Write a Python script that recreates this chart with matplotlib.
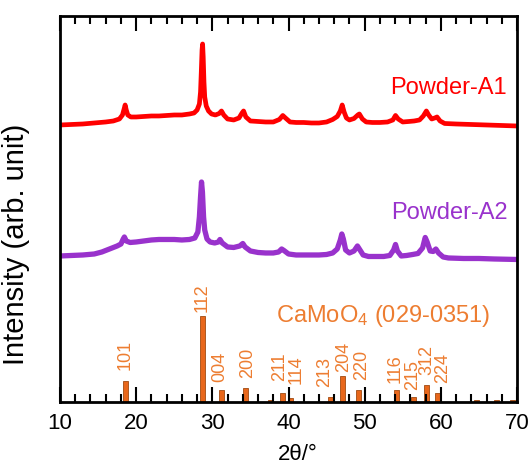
import matplotlib
matplotlib.use('Agg')
import matplotlib.pyplot as plt

plt.rcParams['font.family'] = ['Liberation Sans', 'DejaVu Sans']
plt.rcParams['mathtext.default'] = 'regular'

# Powder-A1 pattern (2theta, intensity in arb. units)
a1_tt = [10.0, 11.5, 13.0, 14.5, 16.0, 17.0, 17.8, 18.2, 18.45, 18.55, 18.7, 18.9, 19.3,
         20.0, 21.0, 22.0, 23.0, 24.0, 25.0, 26.0, 27.0, 27.6, 28.0, 28.3, 28.45, 28.55,
         28.65, 28.72, 28.8, 28.9, 29.0, 29.2, 29.5, 29.9, 30.4, 30.9, 31.2, 31.5, 32.0,
         32.8, 33.5, 33.9, 34.1, 34.4, 35.0, 36.0, 37.0, 38.0, 38.8, 39.25, 39.6, 40.2,
         41.0, 42.0, 43.0, 44.0, 45.0, 45.8, 46.4, 46.8, 47.05, 47.3, 47.6, 48.0, 48.6,
         49.1, 49.3, 49.7, 50.2, 51.0, 52.0, 53.0, 53.7, 54.05, 54.4, 55.0, 55.8, 56.5,
         57.2, 57.7, 58.1, 58.4, 58.8, 59.2, 59.5, 59.9, 60.5, 62.0, 64.0, 66.0, 68.0, 70.0]
a1_int = [277, 277.5, 278, 279, 280, 281, 283, 287, 294, 297, 292, 287, 285,
          285, 285.5, 286, 286, 286.5, 287, 287, 288, 289, 292, 298, 310, 330,
          352, 358, 345, 320, 305, 296, 291, 288, 287, 288.5, 291, 287, 283,
          282, 284, 289, 291, 285, 281, 280.5, 280, 280, 282.5, 286.5, 284, 280,
          279.5, 279.5, 279, 279, 280, 282.5, 285.5, 291, 297, 290, 284, 282, 283.5,
          287, 288, 283, 280, 279.5, 279.5, 280, 282, 286.5, 283, 280, 280.5, 281,
          282, 286, 291, 287, 283, 284, 285, 281, 278.5, 278, 277.5, 277, 276.5, 276]

# Powder-A2 pattern
a2_tt = [10.0, 11.5, 13.0, 14.5, 15.5, 16.5, 17.5, 18.0, 18.3, 18.45, 18.7, 19.2, 20.0,
         21.0, 22.0, 23.0, 24.0, 25.0, 26.0, 27.0, 27.7, 28.1, 28.3, 28.45, 28.58, 28.7,
         28.85, 29.0, 29.3, 29.7, 30.3, 30.8, 31.0, 31.3, 32.0, 32.8, 33.6, 34.0, 34.3,
         35.0, 36.0, 37.0, 38.0, 38.7, 39.1, 39.4, 40.0, 41.0, 42.0, 43.0, 44.0, 45.0,
         45.8, 46.4, 46.8, 47.0, 47.2, 47.5, 48.0, 48.6, 49.05, 49.3, 49.8, 50.5, 51.5,
         52.5, 53.3, 53.8, 54.05, 54.3, 54.8, 55.5, 56.3, 57.0, 57.6, 57.95, 58.2, 58.6,
         59.0, 59.35, 59.7, 60.3, 61.0, 63.0, 65.0, 67.0, 70.0]
a2_int = [146, 146.5, 147, 148, 150, 153, 156, 158, 163, 165, 161, 159.5, 160,
          161, 162, 162.5, 162.5, 162.5, 162, 162.5, 164, 170, 185, 205, 220, 210,
          185, 172, 163, 160, 159, 160, 162.5, 159, 155, 154.5, 156, 158.5, 155,
          151, 149.5, 149, 149, 150, 153, 151.5, 148, 147, 147, 147, 147, 147.5,
          149, 153, 162, 168, 163, 152, 149, 151, 156, 153, 147, 145.5, 145.5,
          145.5, 146.5, 152, 157.5, 151, 146, 146.5, 147.5, 148.5, 154, 164.5, 160, 151,
          150.5, 153, 149, 145, 144, 143.5, 143.5, 143, 142.5]

# CaMoO4 reference card (029-0351)
ref_tt = [18.57, 28.7, 31.2, 34.3, 37.6, 39.25, 40.3, 45.5, 47.05, 49.25, 54.2, 56.4,
          58.1, 59.6, 64.7, 67.3, 69.4]
ref_int = [21, 86, 12, 14, 2, 9, 4, 5, 26, 12, 12, 5, 17, 9, 2, 2, 2]

hkl = ['101', '112', '004', '200', '211', '114', '213', '204', '220',
       '116', '215', '312', '224']
# label placement (x, bottom of the rotated text)
hkl_x = [18.5, 28.7, 31.0, 34.6, 38.85, 40.95, 44.8, 47.2, 49.6, 54.0, 56.3, 58.2, 60.2]
hkl_y = [33, 91, 21, 25, 22, 19, 16, 31, 23, 20, 13, 28, 20]

RED = '#FF0000'
PURPLE = '#9932CC'
ORANGE = '#ED7D31'


def desenhar_grafico():
    fig = plt.figure(figsize=(5.32, 4.64), dpi=100)
    ax = fig.add_axes([0.1128, 0.1315, 0.8590, 0.8319])

    ax.bar(ref_tt, ref_int, width=0.65, color='#E8671B', edgecolor='#A04A12',
           linewidth=0.6, zorder=1)
    ax.plot(a1_tt, a1_int, color=RED, lw=3.4, solid_joinstyle='round', zorder=2)
    ax.plot(a2_tt, a2_int, color=PURPLE, lw=3.8, solid_joinstyle='round', zorder=2)

    for lab, x, y in zip(hkl, hkl_x, hkl_y):
        ax.text(x, y, lab, rotation=90, ha='center', va='bottom',
                fontsize=13, color=ORANGE)

    ax.text(68.7, 315, 'Powder-A1', color=RED, fontsize=17, ha='right', va='center')
    ax.text(68.8, 190, 'Powder-A2', color=PURPLE, fontsize=17, ha='right', va='center')
    ax.text(66.5, 87, 'CaMoO$_4$ (029-0351)', color=ORANGE, fontsize=17,
            ha='right', va='center')

    ax.set_xlim(10, 70)
    ax.set_ylim(0, 386)
    ax.set_xticks(range(10, 71, 10))
    ax.set_xticks(range(10, 71, 2), minor=True)
    ax.tick_params(axis='x', which='both', direction='in', top=True, bottom=True,
                   labelsize=16, pad=7)
    ax.tick_params(axis='x', which='major', length=11, width=1.5)
    ax.tick_params(axis='x', which='minor', length=5.5, width=1.5)
    ax.tick_params(axis='y', which='both', left=False, right=False, labelleft=False)
    for s in ax.spines.values():
        s.set_linewidth(2)

    ax.set_xlabel('2θ/°', fontsize=16)
    ax.xaxis.set_label_coords(0.52, -0.105)
    ax.set_ylabel('Intensity (arb. unit)', fontsize=21)
    ax.yaxis.set_label_coords(-0.066, 0.41)

    fig.savefig('out.png', dpi=100)


if __name__ == "__main__":
    desenhar_grafico()
